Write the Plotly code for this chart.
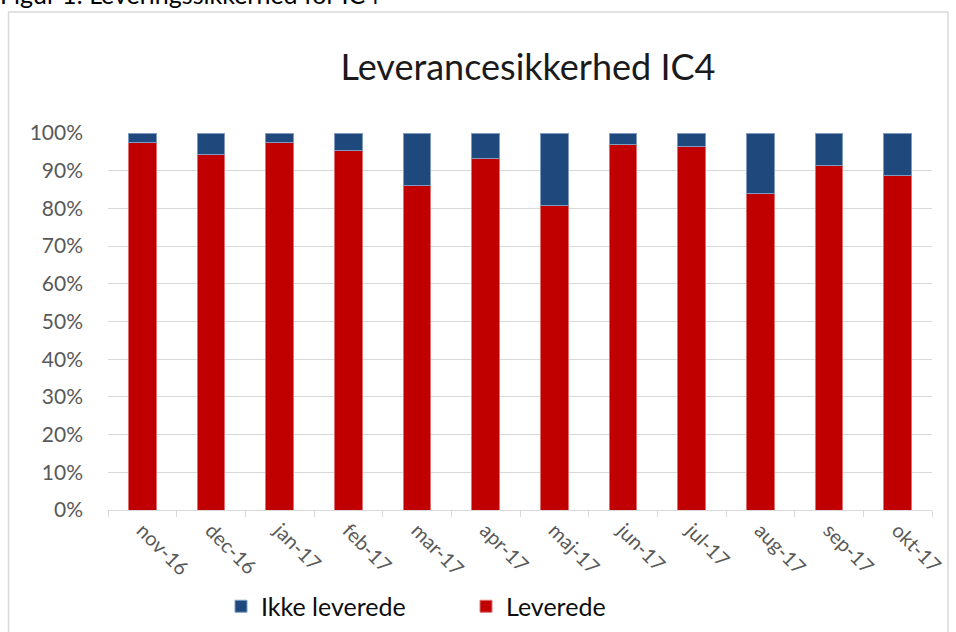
import plotly.graph_objects as go

categories = ["nov-16", "dec-16", "jan-17", "feb-17", "mar-17", "apr-17",
              "maj-17", "jun-17", "jul-17", "aug-17", "sep-17", "okt-17"]
leverede = [0.976, 0.943, 0.974, 0.954, 0.860, 0.933,
            0.807, 0.969, 0.965, 0.840, 0.915, 0.887]
ikke_leverede = [round(1 - v, 3) for v in leverede]
y_ticks = [0, 0.1, 0.2, 0.3, 0.4, 0.5, 0.6, 0.7, 0.8, 0.9, 1.0]

FONT = "Lato"

fig = go.Figure()
fig.add_trace(go.Bar(
    x=categories, y=leverede, name="Leverede",
    marker=dict(color="#C00000", line=dict(color="#E07070", width=1)),
    legendrank=2,
))
fig.add_trace(go.Bar(
    x=categories, y=ikke_leverede, name="Ikke leverede",
    marker=dict(color="#1F497D", line=dict(color="#7F9CC0", width=1)),
    legendrank=1,
))

L, R, T, B = 108, 24, 133, 122
W, H = 956, 632
pw, ph = W - L - R, H - T - B

def px_x(x):
    return (x - L) / pw

def px_y(y):
    return (H - B - y) / ph

fig.update_layout(
    width=W, height=H,
    margin=dict(l=L, r=R, t=T, b=B, autoexpand=False),
    barmode="stack",
    bargap=0.6,
    paper_bgcolor="white",
    plot_bgcolor="white",
    font=dict(family=FONT, color="#595959", size=16),
    title=dict(
        text="Leverancesikkerhed IC4",
        x=528 / W, xanchor="center",
        y=1 - 67 / H, yanchor="middle",
        font=dict(size=36, color="#1a1a1a", family=FONT),
    ),
    xaxis=dict(
        type="category",
        tickangle=45,
        showgrid=False,
        showline=True, linecolor="#d9d9d9", linewidth=1,
        ticks="outside", tickson="boundaries", ticklen=6, tickcolor="#d9d9d9",
        tickfont=dict(size=20, color="#595959"),
    ),
    yaxis=dict(
        range=[0, 1],
        tickvals=y_ticks,
        tickformat=".0%",
        showgrid=True, gridcolor="#d9d9d9", gridwidth=1,
        zeroline=False,
        showline=False,
        ticks="",
        ticklabelstandoff=24,
        tickfont=dict(size=21, color="#595959"),
    ),
    legend=dict(
        orientation="h",
        x=px_x(221), xanchor="left",
        y=px_y(606.5), yanchor="middle",
        font=dict(size=25, color="#0d0d0d", family=FONT),
        entrywidth=200,
        traceorder="normal",
        itemwidth=30,
    ),
    shapes=[dict(
        type="rect", xref="paper", yref="paper",
        x0=px_x(8.5), x1=px_x(948), y0=px_y(660), y1=px_y(12),
        line=dict(color="#d9d9d9", width=1.5), fillcolor="rgba(0,0,0,0)",
        layer="below",
    )],
    annotations=[dict(
        text="Figur 1: Leveringssikkerhed for IC4",
        xref="paper", yref="paper",
        x=px_x(-2), xanchor="left",
        y=px_y(11), yanchor="bottom",
        showarrow=False,
        font=dict(size=25, color="#000000", family=FONT),
    )],
)

fig.write_html(
    "out.html",
    config={"displayModeBar": False},
    post_script="document.body.style.margin='0';document.body.style.padding='0';",
)
